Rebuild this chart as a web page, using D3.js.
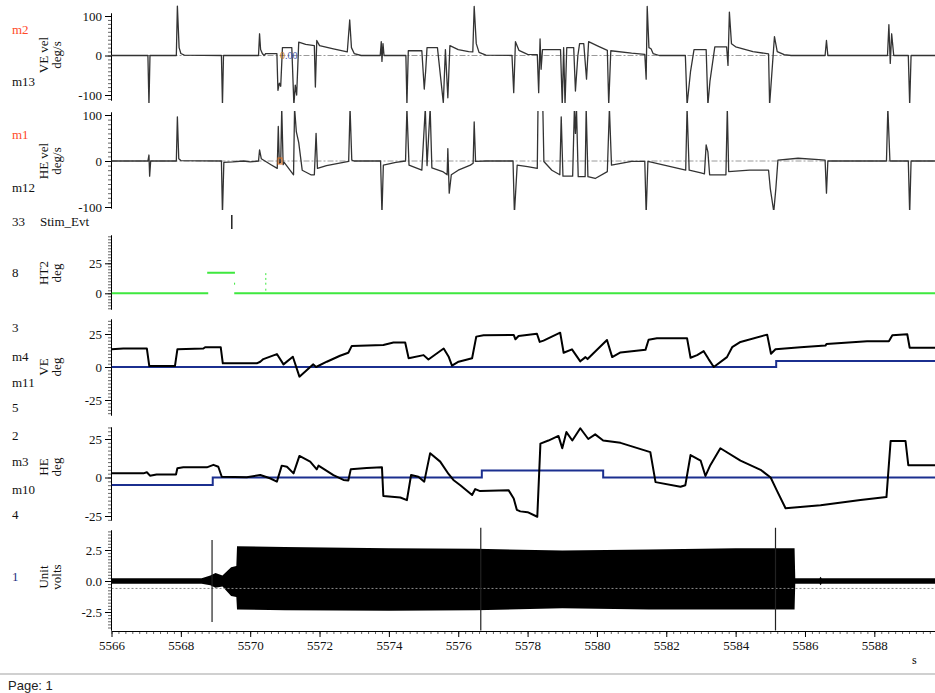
<!DOCTYPE html>
<html><head><meta charset="utf-8">
<script src="https://cdn.jsdelivr.net/npm/d3@7"></script>
<style>
body{margin:0;background:#fff;}
svg{display:block;font-family:"Liberation Serif","Times New Roman",serif;}
svg .tick text{font-family:"Liberation Serif","Times New Roman",serif;}
</style>
</head><body>
<script>
// ---------------- DATA ----------------
const timeDomain = [5566, 5589.75];
const timeTicks = [5566, 5568, 5570, 5572, 5574, 5576, 5578, 5580, 5582, 5584, 5586, 5588];
const veVelTicks = [-100, 0, 100];
const heVelTicks = [-100, 0, 100];
const ht2Ticks = [0, 25];
const veTicks = [-25, 0, 25];
const heTicks = [-25, 0, 25];
const unitTicks = [-2.5, 0, 2.5];

// [time s, deg/s]
const veVel = [[5566.0,0],[5567.05,0],[5567.08,-125],[5567.11,0],[5567.87,0],[5567.90,125],[5567.95,20],[5568.0,5],[5568.1,1],[5569.17,0],[5569.20,-125],[5569.23,0],[5570.24,0],[5570.27,55],[5570.30,15],[5570.35,5],[5570.40,0],[5570.45,5],[5570.77,5],[5570.80,-88],[5570.84,-70],[5570.88,-78],[5570.93,20],[5571.20,20],[5571.26,-125],[5571.30,-75],[5571.34,-100],[5571.40,34],[5571.60,28],[5571.85,25],[5571.88,-80],[5571.92,38],[5572.00,25],[5572.40,17],[5572.80,9],[5572.87,90],[5572.92,20],[5573.00,5],[5573.20,0],[5573.75,0],[5573.78,35],[5573.80,-15],[5573.83,30],[5573.86,0],[5574.49,0],[5574.52,-125],[5574.56,12],[5574.95,12],[5575.02,-85],[5575.06,-40],[5575.10,20],[5575.40,20],[5575.57,-120],[5575.63,15],[5575.70,-107],[5575.76,25],[5576.00,15],[5576.30,10],[5576.42,9],[5576.46,124],[5576.52,30],[5576.60,8],[5576.80,1],[5577.55,0],[5577.60,-94],[5577.65,35],[5577.75,13],[5578.00,3],[5578.28,2],[5578.32,-94],[5578.36,42],[5578.39,-35],[5578.43,15],[5578.95,15],[5579.00,-125],[5579.04,20],[5579.08,-125],[5579.13,20],[5579.33,20],[5579.38,-90],[5579.45,0],[5579.50,30],[5579.62,30],[5579.70,-60],[5579.76,35],[5580.00,25],[5580.30,13],[5580.34,-125],[5580.40,12],[5581.00,6],[5581.38,3],[5581.42,-60],[5581.45,124],[5581.50,20],[5581.56,17],[5581.62,5],[5581.80,0],[5582.55,0],[5582.60,-125],[5582.70,-40],[5582.80,15],[5583.15,15],[5583.20,-125],[5583.26,-65],[5583.40,22],[5583.74,22],[5583.78,-25],[5583.82,110],[5583.88,30],[5584.00,22],[5584.50,10],[5584.95,4],[5584.98,-125],[5585.12,48],[5585.20,10],[5585.40,2],[5585.60,0],[5586.58,0],[5586.62,38],[5586.66,0],[5588.38,0],[5588.42,78],[5588.46,-20],[5588.50,55],[5588.56,0],[5588.98,0],[5589.02,-125],[5589.06,0],[5589.75,0]];

const heVel = [[5566.0,0],[5567.05,0],[5567.08,13],[5567.10,-33],[5567.13,0],[5567.87,0],[5567.90,96],[5567.94,5],[5568.00,1],[5569.17,0],[5569.20,-115],[5569.24,-3],[5569.50,-2],[5569.80,0],[5570.00,-2],[5570.24,0],[5570.27,24],[5570.32,5],[5570.60,-8],[5570.78,-16],[5570.81,75],[5570.84,-5],[5570.88,-3],[5570.91,115],[5570.95,-8],[5570.98,-3],[5571.05,-10],[5571.25,-30],[5571.28,115],[5571.33,64],[5571.40,40],[5571.50,-20],[5571.75,-30],[5571.85,-30],[5571.90,60],[5571.94,-16],[5572.20,-10],[5572.84,-1],[5572.88,115],[5572.93,2],[5573.00,0],[5573.76,0],[5573.80,-115],[5573.84,-9],[5574.20,-3],[5574.48,0],[5574.52,115],[5574.58,-9],[5574.95,-20],[5575.05,115],[5575.10,-10],[5575.19,115],[5575.24,-15],[5575.55,-23],[5575.68,-30],[5575.70,27],[5575.74,-70],[5575.80,-30],[5576.00,-20],[5576.35,-9],[5576.43,-5],[5576.46,85],[5576.50,-1],[5576.80,0],[5577.58,0],[5577.62,-115],[5577.70,-9],[5578.00,-12],[5578.28,-16],[5578.30,115],[5578.44,115],[5578.47,-1],[5578.70,-20],[5578.93,-30],[5578.97,96],[5579.02,-33],[5579.30,-33],[5579.35,115],[5579.38,60],[5579.41,115],[5579.46,-34],[5579.66,-34],[5579.69,115],[5579.74,-34],[5579.95,-38],[5580.30,-23],[5580.36,115],[5580.42,-9],[5581.00,-1],[5581.38,-1],[5581.42,-115],[5581.47,-1],[5582.00,-10],[5582.56,-20],[5582.60,115],[5582.66,-20],[5583.00,-26],[5583.10,-28],[5583.15,35],[5583.20,20],[5583.25,-30],[5583.72,-30],[5583.76,115],[5583.80,-23],[5584.40,-20],[5584.95,-20],[5585.00,-60],[5585.10,-110],[5585.16,-60],[5585.22,2],[5585.80,6],[5586.40,3],[5586.58,2],[5586.62,-70],[5586.66,0],[5588.35,0],[5588.39,115],[5588.45,0],[5588.98,0],[5589.02,-115],[5589.06,0],[5589.75,0]];

const stimEvents = [5569.47];

// [time, deg]; NaN breaks the line
const ht2 = [[5566,0],[5568.79,0],[5568.79,NaN],[5568.76,17.2],[5569.56,17.2],[5569.56,NaN],[5569.54,0],[5589.75,0]];
const ht2Dots = [[5569.55,8],[5570.45,16],[5570.45,12],[5570.45,8],[5570.45,3]];

const vePos = [[5566.0,13.4],[5566.34,14],[5567.02,14],[5567.09,0.7],[5567.83,0.7],[5567.90,13.4],[5568.65,14],[5568.70,15],[5569.15,15],[5569.21,2.8],[5570.19,2.8],[5570.29,4],[5570.38,6],[5570.77,9.8],[5570.96,2],[5571.23,7.8],[5571.42,-7.3],[5571.82,2],[5571.90,0],[5572.21,4],[5572.59,8.5],[5572.83,10.8],[5572.93,16],[5573.84,16.7],[5574.13,18.5],[5574.47,18.5],[5574.57,6.6],[5575.00,9],[5575.14,5.7],[5575.58,14],[5575.72,8],[5575.82,1],[5576.01,4],[5576.40,6.6],[5576.52,23],[5576.73,24],[5577.60,24.3],[5577.65,21],[5577.74,23.5],[5578.27,25.2],[5578.35,19],[5578.46,20],[5578.94,26],[5579.04,10.8],[5579.28,13.4],[5579.52,4.3],[5579.67,7.5],[5579.73,6],[5580.29,20.5],[5580.44,7.5],[5580.68,11],[5581.40,13],[5581.49,20.7],[5581.73,21.7],[5582.60,21.7],[5582.70,7],[5582.89,9],[5583.08,12],[5583.22,6],[5583.37,0],[5583.75,7.5],[5583.90,15],[5584.14,19],[5584.91,24.5],[5585.02,10],[5585.15,13.5],[5585.87,14.9],[5586.59,16.2],[5586.62,17.5],[5587.79,19.5],[5588.42,19.5],[5588.52,24],[5588.95,24.8],[5589.02,14.6],[5589.75,14.6]];
const veTarget = [[5566,0],[5585.17,0],[5585.17,4.5],[5589.75,4.5]];

const hePos = [[5566.0,2.7],[5566.92,2.7],[5567.02,3.4],[5567.11,1.2],[5567.30,2],[5567.86,2],[5567.90,6],[5568.07,6.6],[5568.75,6.6],[5568.94,8.2],[5569.08,7],[5569.18,0.5],[5569.90,0.1],[5570.29,1.6],[5570.57,-0.5],[5570.77,-2.7],[5570.91,7.7],[5571.06,7],[5571.25,2.7],[5571.42,14],[5571.73,10.3],[5571.92,5.3],[5571.97,7.7],[5572.40,1.6],[5572.69,-1.6],[5572.83,-2],[5572.90,5.3],[5573.36,6.2],[5573.80,6.6],[5573.84,-12],[5574.33,-13],[5574.52,-14.7],[5574.64,1.6],[5574.85,0.5],[5575.02,-2.7],[5575.19,15.8],[5575.48,10.3],[5575.72,2.3],[5575.86,-1.6],[5576.06,-5],[5576.40,-11.4],[5576.49,-7.5],[5576.63,-8.8],[5577.45,-8.2],[5577.60,-13.6],[5577.69,-21],[5577.79,-22],[5578.00,-22.5],[5578.28,-25.5],[5578.37,22],[5578.60,24],[5578.89,27],[5579.00,19],[5579.12,29.5],[5579.29,24],[5579.52,32],[5579.75,25],[5579.95,28],[5580.18,24],[5580.68,22.5],[5581.54,16.5],[5581.69,-3],[5582.41,-6],[5582.55,-5],[5582.70,14.6],[5582.99,11],[5583.13,1],[5583.27,8],[5583.56,19],[5584.14,11],[5584.72,5],[5585.01,0],[5585.18,-8],[5585.44,-20],[5586.45,-18],[5587.60,-14.6],[5588.35,-12.7],[5588.47,23.7],[5588.90,23.7],[5588.98,8],[5589.75,8]];
const heTarget = [[5566,-4.9],[5568.92,-4.9],[5568.92,0],[5576.68,0],[5576.68,4.5],[5580.18,4.5],[5580.18,0],[5589.75,0]];

// Unit: [time, upper envelope V, lower envelope V]
const unitEnvelope = [[5566.0,0.22,-0.22],[5568.6,0.22,-0.22],[5568.85,0.45,-0.35],[5569.0,0.65,-0.55],[5569.2,0.45,-0.45],[5569.45,1.1,-1.2],[5569.6,1.2,-1.3],[5569.62,2.8,-2.3],[5571,2.75,-2.35],[5574,2.65,-2.4],[5576.5,2.6,-2.35],[5579,2.45,-2.2],[5581.5,2.55,-2.3],[5584,2.65,-2.3],[5585.7,2.65,-2.3],[5585.72,0.22,-0.22],[5586.42,0.22,-0.22],[5586.45,0.35,-0.35],[5586.48,0.22,-0.22],[5589.75,0.22,-0.22]];
// [time, top V, bottom V]
const unitSpikes = [[5568.9,3.3,-3.3],[5576.65,4.3,-4.0],[5585.15,4.3,-4.0]];
const unitRefLevel = -0.6;

// ---------------- DRAW ----------------
const SERIF = "'Liberation Serif','Times New Roman',serif";
const W = 935, H = 693;
const svg = d3.select("body").append("svg").attr("width", W).attr("height", H);
const X0 = 111.5, X1 = 935;
const x = d3.scaleLinear().domain(timeDomain).range([X0, X1]);

const panels = {
  veVel: {dom:[-100,100], rng:[95,16],     ext:[13,100],  clip:[3,103],   majors:veVelTicks, minor:10,   fmt:d=>String(d)},
  heVel: {dom:[-100,100], rng:[207,115],   ext:[112,208], clip:[111,210], majors:heVelTicks, minor:10,   fmt:d=>String(d)},
  ht2:   {dom:[0,25],     rng:[293.3,263.3], ext:[235,309], clip:[233,311], majors:ht2Ticks, minor:2.5, fmt:d=>String(d)},
  ve:    {dom:[-25,25],   rng:[400,334],   ext:[319,415], clip:[317,417], majors:veTicks,   minor:2.5,  fmt:d=>String(d)},
  he:    {dom:[-25,25],   rng:[516,439],   ext:[427,520], clip:[425,522], majors:heTicks,   minor:2.5,  fmt:d=>String(d)},
  unit:  {dom:[-2.5,2.5], rng:[612,550],   ext:[530,630], clip:[525,631], majors:unitTicks, minor:0.25, fmt:d=>d.toFixed(1)}
};

const defs = svg.append("defs");
Object.entries(panels).forEach(([k,p]) => {
  p.y = d3.scaleLinear().domain(p.dom).range(p.rng);
  defs.append("clipPath").attr("id","clip-"+k).append("rect")
    .attr("x", X0).attr("y", p.clip[0]).attr("width", X1-X0).attr("height", p.clip[1]-p.clip[0]);
  const ay = d3.scaleLinear().domain([p.y.invert(p.ext[1]), p.y.invert(p.ext[0])]).range([p.ext[1], p.ext[0]]);
  const [lo, hi] = ay.domain();
  const minors = d3.range(Math.ceil(lo/p.minor - 1e-9), Math.floor(hi/p.minor + 1e-9)+1).map(i => +(i*p.minor).toFixed(4));
  svg.append("g").attr("transform","translate(111,0)")
    .call(d3.axisLeft(ay).tickValues(minors).tickSize(3).tickSizeOuter(0).tickFormat(""))
    .call(g => g.selectAll(".tick line").attr("stroke","#666"));
  const ga = svg.append("g").attr("transform","translate(111,0)")
    .call(d3.axisLeft(ay).tickValues(p.majors).tickSize(6).tickSizeOuter(0).tickPadding(3).tickFormat(p.fmt))
    .attr("font-family", SERIF).attr("font-size", 13);
  ga.select(".domain").attr("stroke","#000");
  ga.selectAll(".tick text").attr("font-family", SERIF).attr("font-size",13).attr("fill","#111");
  p.g = svg.append("g").attr("clip-path","url(#clip-"+k+")");
});

const lineFor = p => d3.line().defined(d => !isNaN(d[1])).x(d => x(d[0])).y(d => p.y(d[1]));

["veVel","heVel"].forEach(k => {
  const p = panels[k];
  p.g.append("line").attr("x1",X0).attr("x2",X1).attr("y1",p.y(0)).attr("y2",p.y(0))
    .attr("stroke","#9a9a9a").attr("stroke-width",1).attr("stroke-dasharray","6,2,2,2");
});
panels.veVel.g.append("path").datum(veVel).attr("d", lineFor(panels.veVel))
  .attr("fill","none").attr("stroke","#333").attr("stroke-width",1.3).attr("stroke-linejoin","round");
panels.heVel.g.append("path").datum(heVel).attr("d", lineFor(panels.heVel))
  .attr("fill","none").attr("stroke","#333").attr("stroke-width",1.3).attr("stroke-linejoin","round");

svg.append("text").attr("x",280).attr("y",59).attr("font-size",10)
  .call(t => { t.append("tspan").attr("fill","#c0782a").text("0"); t.append("tspan").attr("fill","#3a56a8").text(".00"); });
svg.append("rect").attr("x",278).attr("y",158).attr("width",4).attr("height",6)
  .attr("fill","none").attr("stroke","#e07020").attr("stroke-width",1);

svg.selectAll(".stim").data(stimEvents).join("line")
  .attr("x1", d => x(d)).attr("x2", d => x(d)).attr("y1",215).attr("y2",229)
  .attr("stroke","#000").attr("stroke-width",1.3);

panels.ht2.g.append("path").datum(ht2).attr("d", lineFor(panels.ht2))
  .attr("fill","none").attr("stroke","#3ee83e").attr("stroke-width",2);
panels.ht2.g.selectAll(".dot").data(ht2Dots).join("rect")
  .attr("x", d => x(d[0])-0.5).attr("y", d => panels.ht2.y(d[1])-1).attr("width",1).attr("height",2).attr("fill","#3ee83e");

panels.ve.g.append("path").datum(veTarget).attr("d", lineFor(panels.ve))
  .attr("fill","none").attr("stroke","#1b2f8f").attr("stroke-width",2);
panels.ve.g.append("path").datum(vePos).attr("d", lineFor(panels.ve))
  .attr("fill","none").attr("stroke","#000").attr("stroke-width",2).attr("stroke-linejoin","round");

panels.he.g.append("path").datum(heTarget).attr("d", lineFor(panels.he))
  .attr("fill","none").attr("stroke","#1b2f8f").attr("stroke-width",2);
panels.he.g.append("path").datum(hePos).attr("d", lineFor(panels.he))
  .attr("fill","none").attr("stroke","#000").attr("stroke-width",2).attr("stroke-linejoin","round");

const pu = panels.unit;
pu.g.append("path").datum(unitEnvelope)
  .attr("d", d3.area().x(d => x(d[0])).y0(d => pu.y(d[2])).y1(d => pu.y(d[1])))
  .attr("fill","#000");
pu.g.append("line").attr("x1",X0).attr("x2",X1).attr("y1",pu.y(unitRefLevel)).attr("y2",pu.y(unitRefLevel))
  .attr("stroke","#8a8a8a").attr("stroke-dasharray","2,2");
pu.g.selectAll(".spk").data(unitSpikes).join("line")
  .attr("x1", d => x(d[0])).attr("x2", d => x(d[0])).attr("y1", d => pu.y(d[1])).attr("y2", d => pu.y(d[2]))
  .attr("stroke","#222").attr("stroke-width",1.2);

const minorT = d3.range(0, Math.floor((timeDomain[1]-timeDomain[0])/0.2)+1).map(i => +(timeDomain[0]+i*0.2).toFixed(2));
svg.append("g").attr("transform","translate(0,631)")
  .call(d3.axisBottom(x).tickValues(minorT).tickSize(3).tickSizeOuter(0).tickFormat(""))
  .call(g => g.selectAll(".tick line").attr("stroke","#666"));
const gx = svg.append("g").attr("transform","translate(0,631)")
  .call(d3.axisBottom(x).tickValues(timeTicks).tickSize(6).tickSizeOuter(0).tickPadding(4).tickFormat(d3.format("d")))
  .attr("font-family", SERIF).attr("font-size", 13);
gx.selectAll(".tick text").attr("font-family", SERIF).attr("font-size",13).attr("fill","#111");
svg.append("text").attr("x",912).attr("y",664).attr("font-size",12).text("s");

const leftLabels = [
  ["m2",34,"#ff4a2a"],["m13",86,"#111"],["m1",139,"#ff4a2a"],["m12",192,"#111"],
  ["33",226,"#111"],["8",277,"#111"],["3",332,"#111"],["m4",361,"#111"],["m11",387,"#111"],["5",412,"#111"],
  ["2",440,"#111"],["m3",466,"#111"],["m10",494,"#111"],["4",519,"#111"],["1",581,"#1e2f80"]
];
svg.selectAll(".ll").data(leftLabels).join("text")
  .attr("x",12).attr("y",d => d[1]).attr("fill",d => d[2]).attr("font-size",13).text(d => d[0]);
svg.append("text").attr("x",40).attr("y",226).attr("font-size",13).attr("fill","#111").text("Stim_Evt");

const titles = [
  ["VE vel","deg/s",55],["HE vel","deg/s",161],["HT2","deg",273],["VE","deg",367],["HE","deg",467],["Unit","volts",577]
];
titles.forEach(([a,b,yc]) => {
  svg.append("text").attr("transform",`translate(48,${yc}) rotate(-90)`).attr("text-anchor","middle")
    .attr("font-size",13).attr("fill","#111").text(a);
  svg.append("text").attr("transform",`translate(61,${yc}) rotate(-90)`).attr("text-anchor","middle")
    .attr("font-size",13).attr("fill","#111").text(b);
});

svg.append("rect").attr("x",0).attr("y",673).attr("width",W).attr("height",2).attr("fill","#d0d0d0");
svg.append("text").attr("x",8).attr("y",690).attr("font-family","'Liberation Sans',Arial,sans-serif")
  .attr("font-size",13).attr("fill","#222").text("Page: 1");
</script>
</body></html>
